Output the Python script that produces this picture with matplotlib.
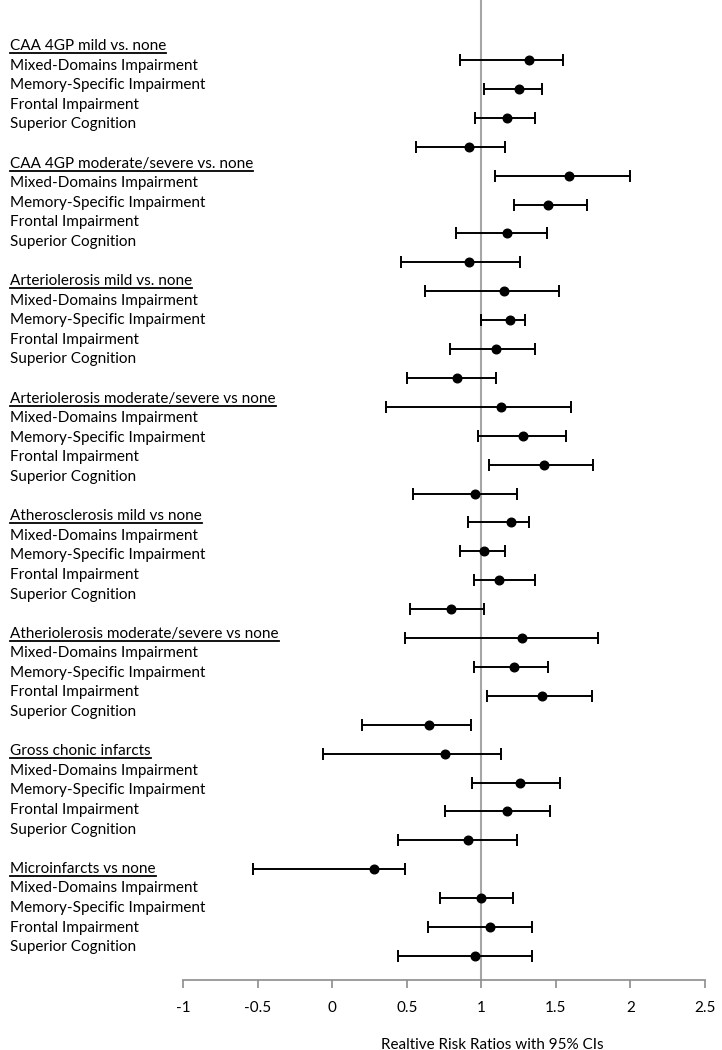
import matplotlib
matplotlib.use('Agg')
import matplotlib.pyplot as plt
from matplotlib.lines import Line2D
import matplotlib.transforms as mtransforms

plt.rcParams['font.family'] = ['Lato', 'DejaVu Sans']

# group headers and the outcome labels shown under each one
headers = ['CAA 4GP mild vs. none',
           'CAA 4GP moderate/severe vs. none',
           'Arteriolerosis mild vs. none',
           'Arteriolerosis moderate/severe vs none',
           'Atherosclerosis mild vs none',
           'Atheriolerosis moderate/severe vs none',
           'Gross chonic infarcts',
           'Microinfarcts vs none']
outcomes = ['Mixed-Domains Impairment', 'Memory-Specific Impairment',
            'Frontal Impairment', 'Superior Cognition']

# relative risk ratios with 95% CIs, top to bottom
rr = [1.32, 1.25, 1.17, 0.92,
      1.59, 1.45, 1.17, 0.92,
      1.15, 1.19, 1.10, 0.84,
      1.13, 1.28, 1.42, 0.96,
      1.20, 1.02, 1.12, 0.80,
      1.27, 1.22, 1.41, 0.65,
      0.76, 1.26, 1.17, 0.91,
      0.28, 1.00, 1.06, 0.96]
lo = [0.86, 1.02, 0.96, 0.56,
      1.09, 1.22, 0.83, 0.46,
      0.62, 1.00, 0.79, 0.50,
      0.36, 0.98, 1.05, 0.54,
      0.91, 0.86, 0.95, 0.52,
      0.49, 0.95, 1.04, 0.20,
      -0.06, 0.94, 0.76, 0.44,
      -0.53, 0.72, 0.64, 0.44]
hi = [1.55, 1.41, 1.36, 1.16,
      2.00, 1.71, 1.44, 1.26,
      1.52, 1.29, 1.36, 1.10,
      1.60, 1.57, 1.75, 1.24,
      1.32, 1.16, 1.36, 1.02,
      1.78, 1.45, 1.74, 0.93,
      1.13, 1.53, 1.46, 1.24,
      0.49, 1.21, 1.34, 1.34]
xticks = [-1, -0.5, 0, 0.5, 1, 1.5, 2, 2.5]
xlabel = 'Realtive Risk Ratios with 95% CIs'

W, H = 722, 1050
fig = plt.figure(figsize=(W / 100, H / 100), dpi=100)
# plot area in pixels: x from 183 to 705, y from 0 to 980
ax = fig.add_axes([183 / W, (H - 980) / H, (705 - 183) / W, 980 / H])

step = 28.9
first = 60
ypos = list(range(len(rr)))
ax.set_xlim(-1, 2.5)
ax.set_ylim((980 - first) / step, -first / step)

xerr = [[r - l for r, l in zip(rr, lo)], [h - r for r, h in zip(rr, hi)]]
ax.errorbar(rr, ypos, xerr=xerr, fmt='o', color='black', ms=6.2,
            elinewidth=1.4, capsize=4, capthick=1.4, zorder=3)
ax.axvline(1, color='#a6a6a6', lw=1.5, zorder=1)

for s in ['top', 'right', 'left']:
    ax.spines[s].set_visible(False)
ax.spines['bottom'].set_color('#8c8c8c')
ax.spines['bottom'].set_linewidth(1.2)
ax.set_yticks([])
ax.set_xticks(xticks)
ax.set_xticklabels([f'{t:g}' for t in xticks])
ax.tick_params(axis='x', direction='out', length=6, width=1.2,
               color='#8c8c8c', labelsize=11, pad=9)
fig.text(492 / W, 1 - 1045 / H, xlabel, fontsize=11, ha='center', va='center')

# left-hand labels: 6 rows per group (header, 4 outcomes, blank)
row_h = 19.59
trans = mtransforms.blended_transform_factory(fig.transFigure, ax.transData)
header_texts = []
for g, head in enumerate(headers):
    base = g * 6
    y = (46 + base * row_h - first) / step
    t = ax.text(10 / W, y, head, transform=trans, fontsize=11,
                va='center', ha='left')
    header_texts.append(t)
    for k, name in enumerate(outcomes):
        y = (46 + (base + 1 + k) * row_h - first) / step
        ax.text(10 / W, y, name, transform=trans, fontsize=11,
                va='center', ha='left')

# underline the headers
fig.canvas.draw()
r = fig.canvas.get_renderer()
for t in header_texts:
    bb = t.get_window_extent(renderer=r)
    yl = bb.y0 - 0.2
    fig.add_artist(Line2D([bb.x0 / W, bb.x1 / W], [yl / H, yl / H],
                          transform=fig.transFigure, color='black', lw=1.3))

fig.savefig('out.png', dpi=100)
